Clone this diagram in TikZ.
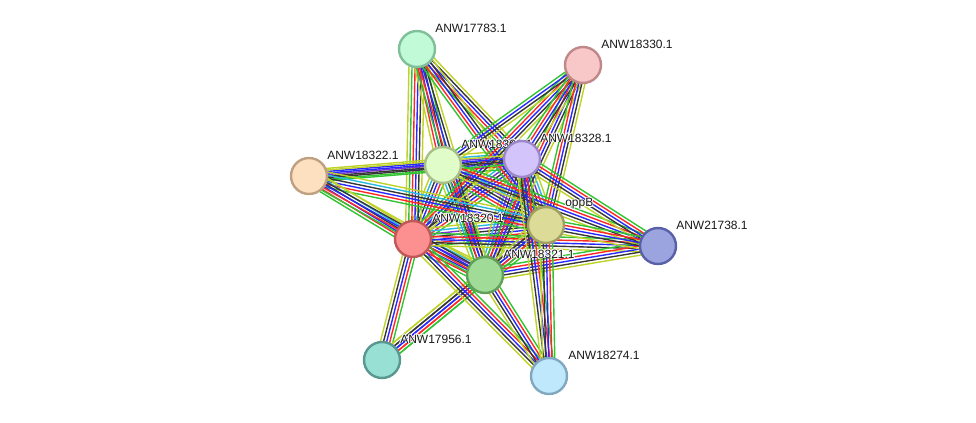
\documentclass[tikz,border=0pt]{standalone}
\usepackage{fontspec}
\setmainfont{Liberation Sans}
\usetikzlibrary{calc}
\definecolor{gr}{RGB}{50,195,50}
\definecolor{rd}{RGB}{255,40,40}
\definecolor{bl}{RGB}{40,40,255}
\definecolor{bk}{RGB}{55,55,55}
\definecolor{pu}{RGB}{120,50,210}
\definecolor{cy}{RGB}{40,185,225}
\definecolor{yg}{RGB}{190,210,40}
\pgfdeclarelayer{edges}
\pgfsetlayers{edges,main}
\newcommand\sedge[3]{%
  \foreach \c [count=\k] in {#3}{\xdef\nlines{\k}}%
  \foreach \c [count=\i] in {#3}{%
    \pgfmathsetmacro\off{(\i-(\nlines+1)/2)*2.3}%
    \draw[ln,\c] ($(#1)!\off pt!90:(#2)$) -- ($(#2)!\off pt!-90:(#1)$);}%
}
\newcommand\plabel[3]{%
  \foreach \dx/\dy in {0.6/0,-0.6/0,0/0.6,0/-0.6,0.45/0.45,-0.45/0.45,0.45/-0.45,-0.45/-0.45}{%
    \node[lbl,text=white] at ($(#2)+(\dx pt,\dy pt)$) {#3};}%
  \node[lbl] (#1) at (#2) {#3};%
}
\begin{document}
\begin{tikzpicture}[x=0.75pt,y=-0.75pt,
  prot/.style={circle, draw, line width=1.8pt, minimum size=27pt, inner sep=0pt},
  lbl/.style={anchor=west, font=\fontsize{9}{10}\selectfont, inner sep=0pt, text={rgb,255:red,25;green,25;blue,25}},
  ln/.style={line width=1.05pt}]
\useasboundingbox (0,0) rectangle (976,422);
% centres
\coordinate (cP1) at (417,49);
\coordinate (cP2) at (583,65);
\coordinate (cP3) at (309,176);
\coordinate (cC) at (443,165);
\coordinate (cD) at (522,159);
\coordinate (cE) at (546,225);
\coordinate (cP4) at (658,246);
\coordinate (cA) at (413,239);
\coordinate (cB) at (485,275);
\coordinate (cP5) at (382,360);
\coordinate (cP6) at (549,376);
% label anchors
\coordinate (pP1) at ($(cP1)+(18,-21)$);
\coordinate (pP2) at ($(cP2)+(18,-21)$);
\coordinate (pP3) at ($(cP3)+(18,-21)$);
\coordinate (pC) at ($(cC)+(18,-21)$);
\coordinate (pD) at ($(cD)+(18,-21)$);
\coordinate (pE) at ($(cE)+(19,-21)$);
\coordinate (pP4) at ($(cP4)+(18,-21)$);
\coordinate (pA) at ($(cA)+(19,-21)$);
\coordinate (pB) at ($(cB)+(18,-21)$);
\coordinate (pP5) at ($(cP5)+(18,-21)$);
\coordinate (pP6) at ($(cP6)+(19,-21)$);
% labels
\plabel{lP1}{pP1}{ANW17783.1}
\plabel{lP2}{pP2}{ANW18330.1}
\plabel{lP3}{pP3}{ANW18322.1}
\plabel{lC}{pC}{ANW18326.1}
\plabel{lD}{pD}{ANW18328.1}
\plabel{lE}{pE}{oppB}
\plabel{lP4}{pP4}{ANW21738.1}
\plabel{lA}{pA}{ANW18320.1}
\plabel{lB}{pB}{ANW18321.1}
\plabel{lP5}{pP5}{ANW17956.1}
\plabel{lP6}{pP6}{ANW18274.1}
% nodes
\node[prot, fill={rgb,255:red,192;green,250;blue,215}, draw={rgb,255:red,128;green,192;blue,152}] (P1) at (cP1) {};
\node[prot, fill={rgb,255:red,248;green,200;blue,200}, draw={rgb,255:red,192;green,136;blue,136}] (P2) at (cP2) {};
\node[prot, fill={rgb,255:red,253;green,224;blue,192}, draw={rgb,255:red,192;green,160;blue,128}] (P3) at (cP3) {};
\node[prot, fill={rgb,255:red,224;green,252;blue,200}, draw={rgb,255:red,168;green,192;blue,136}] (C) at (cC) {};
\node[prot, fill={rgb,255:red,212;green,196;blue,252}, draw={rgb,255:red,156;green,136;blue,200}] (D) at (cD) {};
\node[prot, fill={rgb,255:red,220;green,220;blue,152}, draw={rgb,255:red,160;green,160;blue,96}] (E) at (cE) {};
\node[prot, fill={rgb,255:red,156;green,164;blue,224}, draw={rgb,255:red,88;green,96;blue,168}] (P4) at (cP4) {};
\node[prot, fill={rgb,255:red,252;green,144;blue,144}, draw={rgb,255:red,192;green,88;blue,88}] (A) at (cA) {};
\node[prot, fill={rgb,255:red,160;green,220;blue,152}, draw={rgb,255:red,96;green,160;blue,88}] (B) at (cB) {};
\node[prot, fill={rgb,255:red,152;green,224;blue,212}, draw={rgb,255:red,88;green,152;blue,144}] (P5) at (cP5) {};
\node[prot, fill={rgb,255:red,192;green,232;blue,252}, draw={rgb,255:red,128;green,168;blue,192}] (P6) at (cP6) {};
% edges
\begin{pgfonlayer}{edges}
\sedge{A}{B}{gr,rd,bl,bk,pu,cy,yg}
\sedge{A}{C}{gr,rd,bl,bk,cy,yg}
\sedge{A}{D}{gr,rd,bl,bk,pu,cy,yg}
\sedge{A}{E}{gr,rd,bl,bk,pu,cy,yg}
\sedge{B}{C}{gr,rd,bl,bk,cy,yg}
\sedge{B}{D}{gr,rd,bl,bk,pu,cy,yg}
\sedge{B}{E}{gr,rd,bl,bk,pu,cy,yg}
\sedge{C}{D}{gr,rd,bl,bk,pu,cy,yg}
\sedge{C}{E}{gr,rd,bl,bk,pu,cy,yg}
\sedge{D}{E}{gr,rd,bl,bk,pu,cy,yg}
\sedge{P1}{A}{yg,gr,rd,bl,bk,yg}
\sedge{P1}{C}{yg,rd,bl,bk,gr}
\sedge{P1}{B}{gr,rd,bl,bk,yg}
\sedge{P1}{D}{gr,rd,bl,bk,yg}
\sedge{P1}{E}{gr,rd,bl,bk,yg}
\sedge{P2}{A}{gr,rd,bl,bk,yg}
\sedge{P2}{B}{gr,rd,bl,bk,yg}
\sedge{P2}{C}{gr,bl,bk,yg}
\sedge{P2}{D}{gr,rd,bl,bk,yg}
\sedge{P2}{E}{gr,rd,bl,bk,yg}
\sedge{P3}{C}{gr,bk,pu,bl,yg}
\sedge{P3}{D}{gr,bk,bl,yg}
\sedge{P3}{E}{gr,rd,bl,bk,cy,yg}
\sedge{P3}{A}{gr,rd,bl,bk,cy,yg}
\sedge{P3}{B}{gr,rd,bl,bk,yg}
\sedge{P4}{A}{gr,rd,bl,bk,yg}
\sedge{P4}{B}{gr,rd,bl,bk,yg}
\sedge{P4}{C}{gr,rd,bl,bk,yg}
\sedge{P4}{D}{gr,rd,bl,bk,yg}
\sedge{P4}{E}{gr,rd,bl,bk,yg}
\sedge{P5}{A}{gr,rd,bl,bk,yg}
\sedge{P5}{B}{gr,rd,bl,bk,yg}
\sedge{P5}{E}{gr,rd,bl,bk,yg}
\sedge{P6}{A}{gr,rd,bl,bk,yg}
\sedge{P6}{B}{gr,rd,bl,bk,yg}
\sedge{P6}{D}{gr,rd,bl,bk,yg}
\sedge{P6}{E}{gr,rd,bl,bk,yg}
\end{pgfonlayer}
\end{tikzpicture}
\end{document}
